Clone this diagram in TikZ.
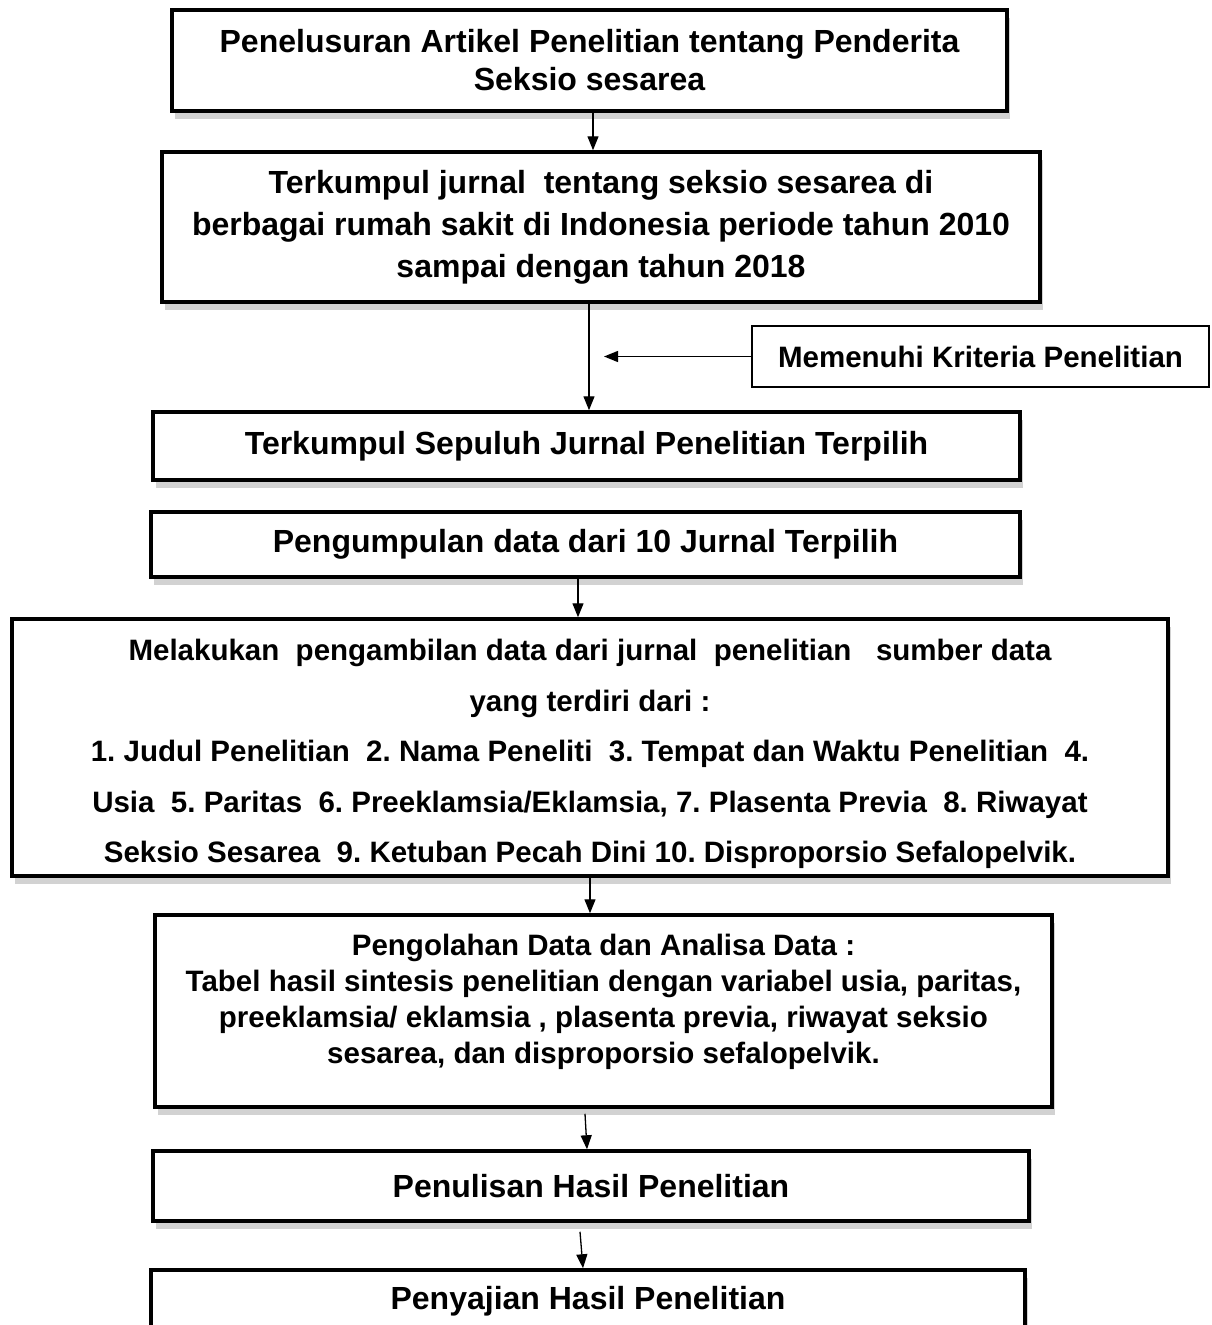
\documentclass[tikz,border=0pt]{standalone}
\usepackage{fontspec}
\setmainfont{Liberation Sans}
\frenchspacing
\usetikzlibrary{arrows.meta,shadows}
\tikzstyle{box}=[draw, line width=3.5pt, fill=white, align=center, font=\bfseries\fontsize{32}{38}\selectfont, drop shadow={shadow xshift=3pt, shadow yshift=-8pt, fill=black!35, opacity=.5}]
\tikzstyle{small}=[font=\bfseries\fontsize{29.5}{36}\selectfont]
\tikzstyle{flow}=[-{Triangle[length=14pt,width=11pt]}, line width=1.3pt]

\begin{document}
\begin{tikzpicture}[x=1pt,y=-1pt]
  \useasboundingbox (0,0) rectangle (1211,1325);
  %% Steps
  \draw (589.5,60.5) node[box, minimum width=835pt, minimum height=101pt] (T1) {Penelusuran Artikel Penelitian tentang Penderita\\ Seksio sesarea};
  \draw (601,227) node[box, font=\bfseries\fontsize{32}{42}\selectfont, minimum width=878pt, minimum height=150pt] (T2) {Terkumpul jurnal\ \ tentang seksio sesarea di\\ berbagai rumah sakit di Indonesia periode tahun 2010\\ sampai dengan tahun 2018};
  \draw (586.5,446) node[box, minimum width=867pt, minimum height=68pt] (T3) {Terkumpul Sepuluh Jurnal Penelitian Terpilih};
  \draw (585.5,544.5) node[box, minimum width=869pt, minimum height=65pt] (T4) {Pengumpulan data dari 10 Jurnal Terpilih};
  \draw (590,747.5) node[box, font=\bfseries\fontsize{29.5}{50.5}\selectfont, minimum width=1156pt, minimum height=257pt] (T5) {\rule{0pt}{35pt}Melakukan\ \ pengambilan data dari jurnal\ \ penelitian\ \ \ sumber data\\ yang terdiri dari :\\ 1. Judul Penelitian\ \ 2. Nama Peneliti\ \ 3. Tempat dan Waktu Penelitian\ \ 4.\\ Usia\ \ 5. Paritas\ \ 6. Preeklamsia/Eklamsia, 7. Plasenta Previa\ \ 8. Riwayat\\ Seksio Sesarea\ \ 9. Ketuban Pecah Dini 10. Disproporsio Sefalopelvik.};
  \draw (603.5,1011) node[box, small, minimum width=897pt, minimum height=192pt] (T6) {Pengolahan Data dan Analisa Data :\\ Tabel hasil sintesis penelitian dengan variabel usia, paritas,\\ preeklamsia/ eklamsia , plasenta previa, riwayat seksio\\ sesarea, dan disproporsio sefalopelvik.\\[-22pt]\strut};
  \draw (591,1186) node[box, minimum width=876pt, minimum height=70pt] (T7) {Penulisan Hasil Penelitian};
  \draw (588,1301) node[box, minimum width=874pt, minimum height=62pt] (T8) {Penyajian Hasil Penelitian};

  %% Side condition
  \draw (980.5,356.5) node[draw, line width=1.2pt, small, minimum width=457pt, minimum height=61pt] (K) {Memenuhi Kriteria Penelitian};
  \coordinate (J) at (604,356.5);

  %% Arrows
  \draw[flow] ([xshift=3.5pt]T1.south) -- ([xshift=-8pt]T2.north);
  \draw[flow] ([xshift=-12pt]T2.south) -- ([xshift=2.5pt]T3.north);
  \draw[flow] (K.west) -- (J);
  \draw[flow] ([xshift=-7.5pt]T4.south) -- ([xshift=-12pt]T5.north);
  \draw[flow] (T5.south) -- ([xshift=-13.5pt]T6.north);
  \draw[flow] ([xshift=-18.5pt,yshift=-5pt]T6.south) -- ([xshift=-4pt]T7.north);
  \draw[flow] ([xshift=-11pt,yshift=-9pt]T7.south) -- ([xshift=-5pt]T8.north);
\end{tikzpicture}
\end{document}
